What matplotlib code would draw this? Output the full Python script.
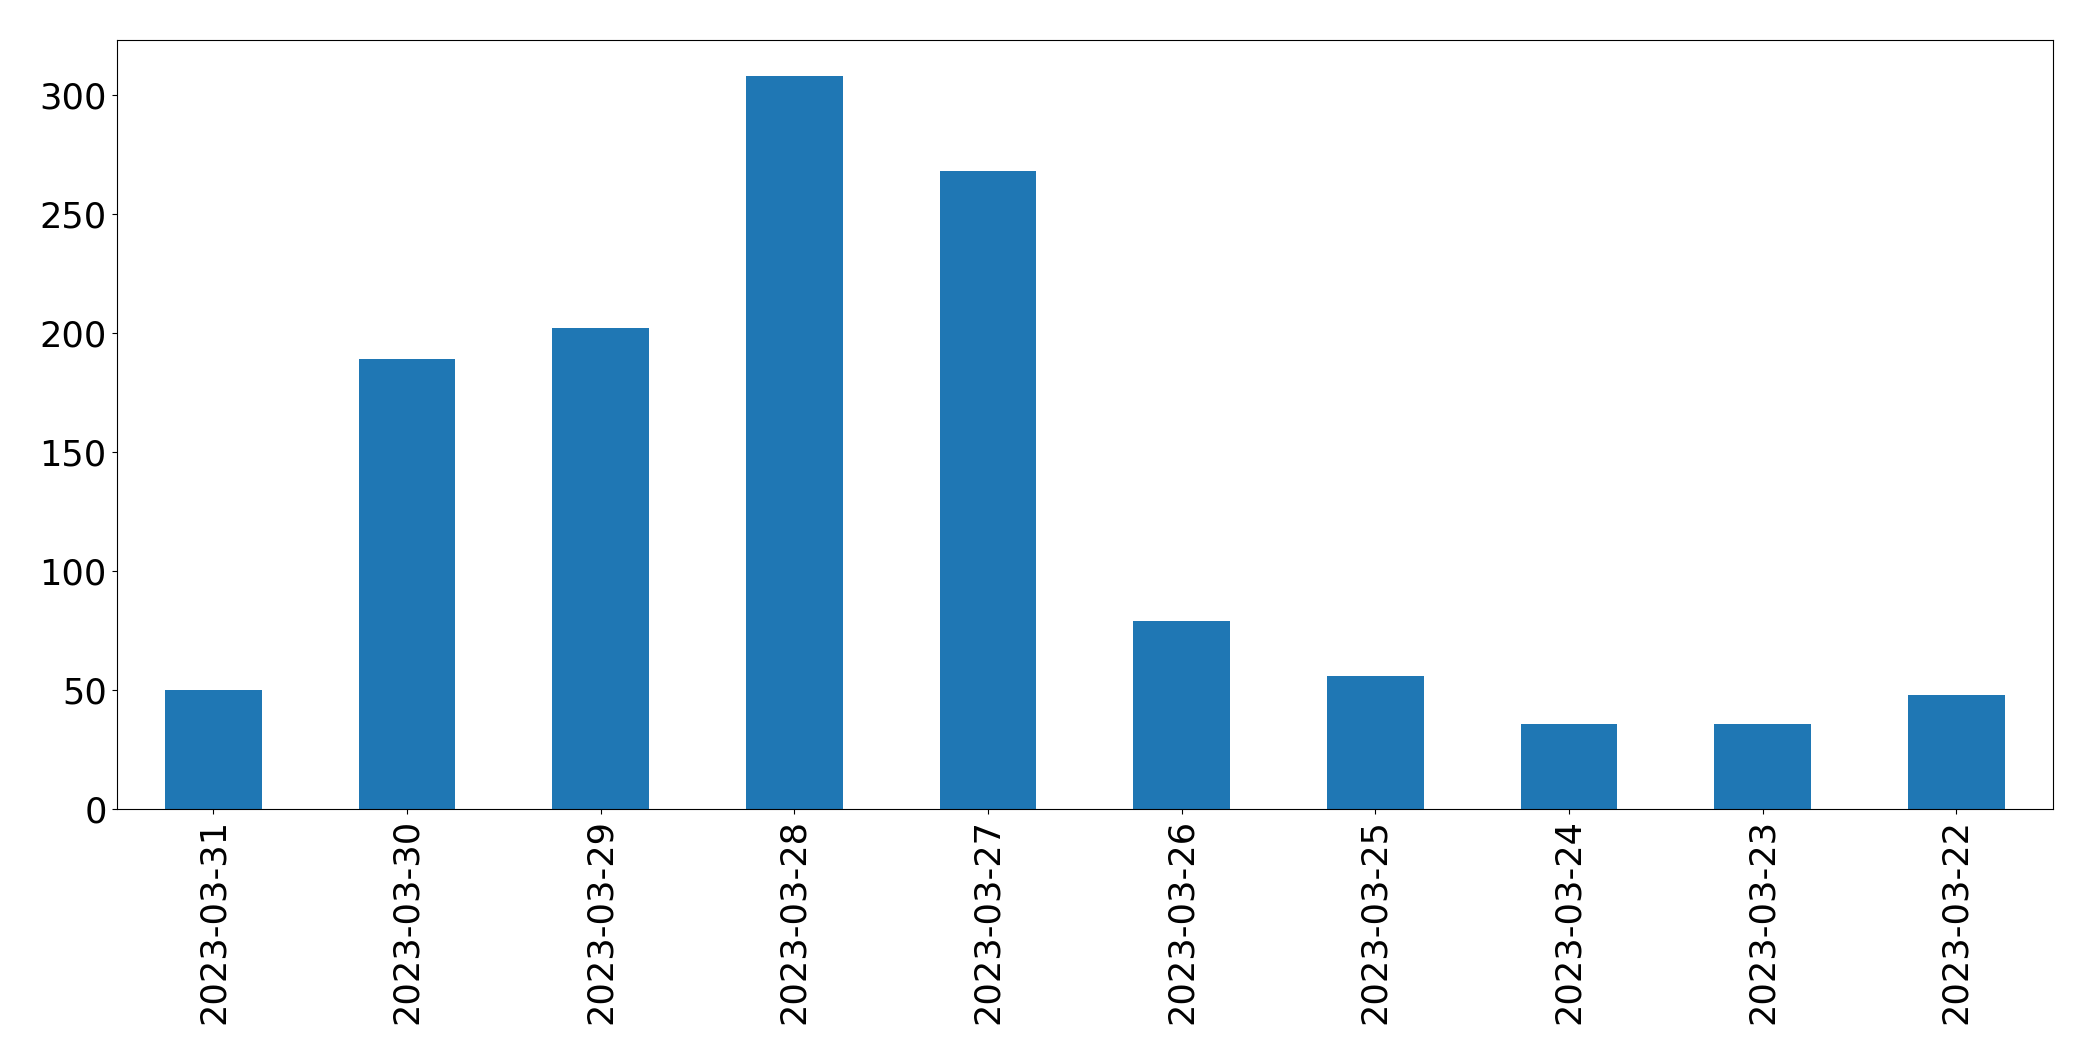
import matplotlib
matplotlib.use('Agg')
import matplotlib.pyplot as plt
import numpy as np
import pandas as pd

# daily counts, newest first
dates = ['2023-03-31', '2023-03-30', '2023-03-29', '2023-03-28', '2023-03-27',
         '2023-03-26', '2023-03-25', '2023-03-24', '2023-03-23', '2023-03-22']
counts = [50, 189, 202, 308, 268, 79, 56, 36, 36, 48]

s = pd.Series(counts, index=dates)

fig, ax = plt.subplots(figsize=(20.93, 10.61), dpi=100)
s.plot(kind='bar', ax=ax, color='#1f77b4')
ax.set_xlabel('')
ax.tick_params(axis='both', labelsize=25.3)
fig.subplots_adjust(left=0.0557, right=0.9809, top=0.9627, bottom=0.2373)

fig.savefig('out.png', dpi=100)
